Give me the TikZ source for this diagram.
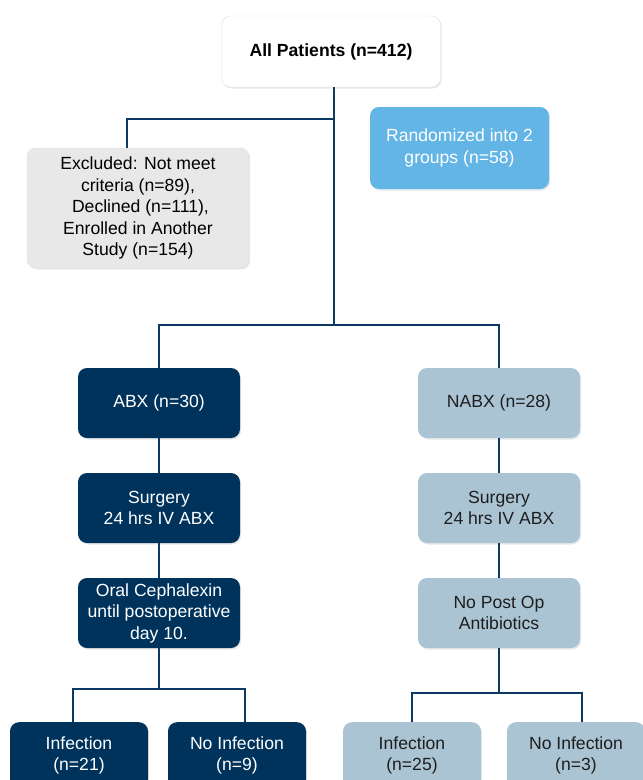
\documentclass[tikz,border=0pt]{standalone}
\usepackage{fontspec}
\setmainfont{Liberation Sans}
\usetikzlibrary{shadows}
\definecolor{navy}{HTML}{00335C}
\definecolor{wire}{HTML}{0D3A62}
\definecolor{steel}{HTML}{AAC4D4}
\definecolor{sky}{HTML}{63B5E5}
\definecolor{ink}{HTML}{1E1E1E}
\begin{document}
\begin{tikzpicture}[x=1pt,y=-1pt,font=\fontsize{17.6}{21.5}\selectfont,
                    box/.style={rounded corners=9pt,align=center,inner sep=0pt,
                      drop shadow={shadow xshift=1.2pt,shadow yshift=-1.5pt,opacity=0.18}},
                    col/.style={box,minimum width=162pt,minimum height=70pt},
                    leaf/.style={box,anchor=north,minimum width=138pt,minimum height=66pt},
                    dark/.style={fill=navy,text=white},
                    pale/.style={fill=steel,text=ink},
                    link/.style={draw=wire,line width=2.8pt}]
  \clip (0,0) rectangle (643,780);
  \node[box,fill=white,draw=black!12,minimum width=219pt,minimum height=71pt] (all) at (331,51.5) {\bfseries All Patients (n=412)};
  \node[box,fill=black!9,draw=black!14,minimum width=222pt,minimum height=120pt] (excl) at (138,208)
    {Excluded: Not meet\\criteria (n=89),\\ \ Declined (n=111),\\Enrolled in Another\\Study (n=154)};
  \node[box,fill=sky,text=white,minimum width=179pt,minimum height=82pt] (rand) at (459.5,148) {Randomized into 2\\groups (n=58)};
  % treated arm
  \node[col,dark] (abx) at (159,403) {ABX (n=30)};
  \node[col,dark] (sa) at (159,508) {Surgery\\24 hrs IV ABX};
  \node[col,dark] (oral) at (159,613) {Oral Cephalexin\\until postoperative\\day 10.};
  % control arm
  \node[col,pale] (nabx) at (499,403) {NABX (n=28)};
  \node[col,pale] (sn) at (499,508) {Surgery\\24 hrs IV ABX};
  \node[col,pale] (nopo) at (499,613) {No Post Op\\Antibiotics};
  % outcomes
  \node[leaf,dark] (ia) at (79,722) {Infection\\(n=21)};
  \node[leaf,dark] (na) at (237,722) {No Infection\\(n=9)};
  \node[leaf,pale] (ib) at (412,722) {Infection\\(n=25)};
  \node[leaf,pale] (nb) at (576,722) {No Infection\\(n=3)};
  % junctions
  \coordinate (jx) at (334,119);
  \coordinate (jb) at (334,325);
  \coordinate (jl) at (159,689);
  \coordinate (jr) at (499,693);
  \draw[link] (all.south -| jb) -- (jb);
  \draw[link] (jx) -| ([xshift=-11pt]excl.north);
  \draw[link] (abx) |- (jb) -| (nabx);
  \draw[link] (abx) -- (sa) (sa) -- (oral) (oral) -- (jl);
  \draw[link] (nabx) -- (sn) (sn) -- (nopo) (nopo) -- (jr);
  \draw[link] ([xshift=-6pt]ia.north) |- (jl) -| ([xshift=8pt]na.north);
  \draw[link] (ib) |- (jr) -| ([xshift=6pt]nb.north);
\end{tikzpicture}
\end{document}
